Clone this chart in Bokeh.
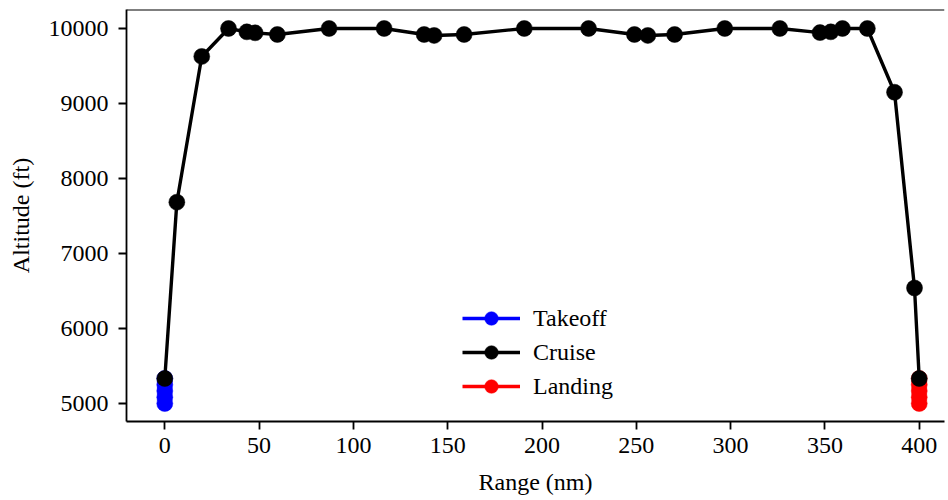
from bokeh.plotting import figure
from bokeh.models import Range1d, FixedTicker, Legend, LegendItem, Span
from bokeh.embed import file_html
from bokeh.resources import INLINE

# ---- data ----
takeoff_range = [0, 0, 0, 0, 0]
takeoff_alt = [5000, 5083, 5167, 5250, 5333]

cruise_range = [0, 6.4, 19.6, 33.8, 43.5, 47.9, 59.7, 87.1, 116.3, 137.5, 142.8,
                158.7, 190.6, 224.7, 249.0, 256.1, 270.3, 296.9, 326.1, 347.4,
                353.1, 359.3, 372.5, 386.9, 397.5, 400]
cruise_alt = [5333, 7684, 9627, 10000, 9955, 9942, 9920, 10000, 10000, 9920, 9907,
              9920, 10000, 10000, 9920, 9907, 9920, 10000, 10000, 9945,
              9955, 10000, 10000, 9150, 6540, 5333]

landing_range = [400, 400, 400, 400, 400]
landing_alt = [5333, 5250, 5167, 5083, 5000]

x_ticks = [0, 50, 100, 150, 200, 250, 300, 350, 400]
y_ticks = [5000, 6000, 7000, 8000, 9000, 10000]

FONT = "Liberation Serif"
FS = "24px"

p = figure(frame_width=818, frame_height=412,
           min_border_left=126, min_border_right=4, min_border_top=9, min_border_bottom=79,
           x_range=Range1d(-20.3, 413.4), y_range=Range1d(4760, 10253),
           output_backend="svg", toolbar_location=None,
           background_fill_color="white", border_fill_color="white")
p.outline_line_color = None
p.xgrid.visible = False
p.ygrid.visible = False

p.xaxis.ticker = FixedTicker(ticks=x_ticks)
p.yaxis.ticker = FixedTicker(ticks=y_ticks)
p.xaxis.axis_label = "Range (nm)"
p.yaxis.axis_label = "Altitude (ft)"
for ax in (p.xaxis, p.yaxis):
    ax.axis_line_width = 1.8
    ax.axis_line_color = "black"
    ax.major_tick_line_width = 1.8
    ax.major_tick_line_color = "black"
    ax.major_tick_out = 8
    ax.major_tick_in = 0
    ax.minor_tick_line_color = None
    ax.major_label_text_font = FONT
    ax.major_label_text_font_size = FS
    ax.major_label_text_color = "black"
    ax.axis_label_text_font = FONT
    ax.axis_label_text_font_size = FS
    ax.axis_label_text_font_style = "normal"
    ax.axis_label_text_color = "black"
p.xaxis.major_label_standoff = 8
p.xaxis.axis_label_standoff = 13
p.yaxis.major_label_standoff = 10
p.yaxis.axis_label_standoff = 12

top = Span(location=10253, dimension="width", line_color="black", line_width=1.8)
p.add_layout(top)

LW = 3.4
MS = 16
t_line = p.line(takeoff_range, takeoff_alt, line_color="#0000ff", line_width=LW)
t_pts = p.scatter(takeoff_range, takeoff_alt, size=MS, fill_color="#0000ff", line_color="#0000ff", line_width=0.5)
l_line = p.line(landing_range, landing_alt, line_color="#ff0000", line_width=LW)
l_pts = p.scatter(landing_range, landing_alt, size=MS, fill_color="#ff0000", line_color="#ff0000", line_width=0.5)
c_line = p.line(cruise_range, cruise_alt, line_color="black", line_width=LW)
c_pts = p.scatter(cruise_range, cruise_alt, size=MS, fill_color="black", line_color="black", line_width=0.5)

legend = Legend(items=[
    LegendItem(label="Takeoff", renderers=[t_line, t_pts]),
    LegendItem(label="Cruise", renderers=[c_line, c_pts]),
    LegendItem(label="Landing", renderers=[l_line, l_pts]),
], location=(336, 18), glyph_width=58, glyph_height=34, label_height=34,
   label_standoff=13, spacing=0, padding=0, margin=0,
   border_line_color=None, background_fill_alpha=0,
   label_text_font=FONT, label_text_font_size=FS, label_text_color="black")
p.add_layout(legend)

open("out.html", "w").write(file_html(p, INLINE))
